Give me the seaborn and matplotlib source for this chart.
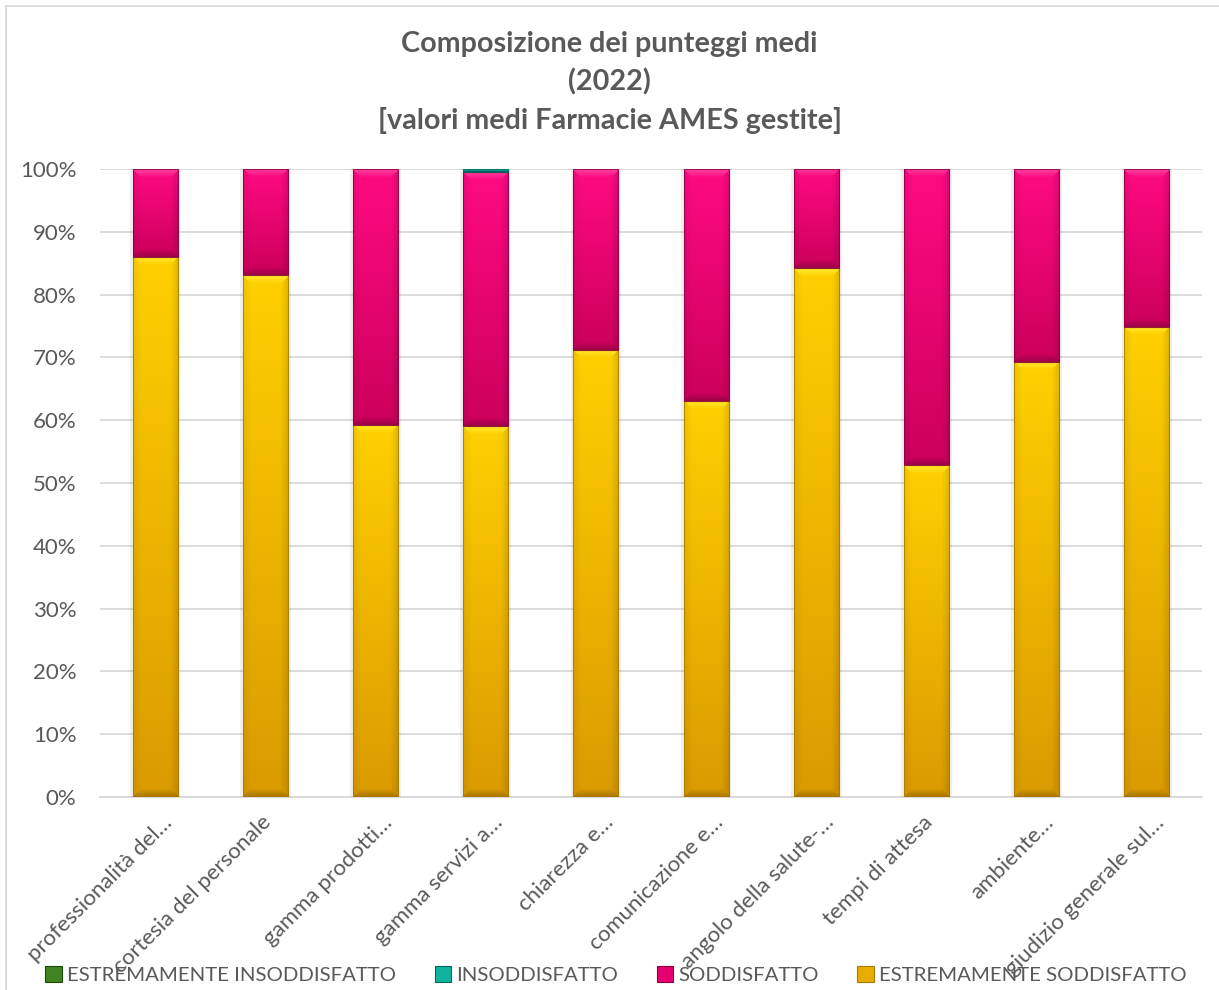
import numpy as np
import pandas as pd
import matplotlib
matplotlib.use("Agg")
import matplotlib.pyplot as plt
import matplotlib.transforms as mtransforms
from matplotlib.patches import Rectangle, Patch
from matplotlib.colors import to_rgb
import seaborn as sns

# ---------------- data ----------------
categories = [
    "professionalità del…",
    "cortesia del personale",
    "gamma prodotti…",
    "gamma servizi a…",
    "chiarezza e…",
    "comunicazione e…",
    "angolo della salute-…",
    "tempi di attesa",
    "ambiente…",
    "giudizio generale sul…",
]
estremamente_soddisfatto = [86.0, 83.1, 59.3, 59.0, 71.2, 63.1, 84.2, 52.8, 69.3, 74.9]
soddisfatto = [14.0, 16.9, 40.7, 40.5, 28.8, 36.9, 15.8, 47.2, 30.7, 25.1]
insoddisfatto = [0.0, 0.0, 0.0, 0.5, 0.0, 0.0, 0.0, 0.0, 0.0, 0.0]
estremamente_insoddisfatto = [0.0, 0.0, 0.0, 0.0, 0.0, 0.0, 0.0, 0.0, 0.0, 0.0]
series_names = ["ESTREMAMENTE INSODDISFATTO", "INSODDISFATTO", "SODDISFATTO",
                "ESTREMAMENTE SODDISFATTO"]
y_ticks = [0, 10, 20, 30, 40, 50, 60, 70, 80, 90, 100]
title_lines = ["Composizione dei punteggi medi", "(2022)",
               "[valori medi Farmacie AMES gestite]"]

# ---------------- style ----------------
sns.set_theme(style="white")
plt.rcParams['font.family'] = ['Lato', 'DejaVu Sans']
TXT = "#595959"
GRID = "#D9D9D9"

# colours per series: (top, bottom, highlight, edge, legend)
styles = {
    "ESTREMAMENTE SODDISFATTO": ("#FFD000", "#DA9A00", "#FFF23A", "#A77A00", "#E8AC00"),
    "SODDISFATTO": ("#FF0A82", "#CC005C", "#FF4FA6", "#8A0040", "#E6006F"),
    "INSODDISFATTO": ("#14C8B4", "#00907F", "#60E8D8", "#00695C", "#0FB3A0"),
    "ESTREMAMENTE INSODDISFATTO": ("#4E9A2A", "#2E6A14", "#7CC450", "#1E4A0A", "#3F8420"),
}

df = pd.DataFrame({
    "categoria": categories,
    "ESTREMAMENTE SODDISFATTO": estremamente_soddisfatto,
    "SODDISFATTO": soddisfatto,
    "INSODDISFATTO": insoddisfatto,
    "ESTREMAMENTE INSODDISFATTO": estremamente_insoddisfatto,
})
stack = ["ESTREMAMENTE SODDISFATTO", "SODDISFATTO", "INSODDISFATTO",
         "ESTREMAMENTE INSODDISFATTO"]
cum = df[stack].cumsum(axis=1)

W, H = 1219, 990
fig = plt.figure(figsize=(W / 100, H / 100), dpi=100)
fig.patch.set_facecolor("white")
ax = fig.add_axes([100 / W, 193 / H, 1102 / W, 628 / H])

BAR_W = 0.41
# draw cumulative bars, tallest first, through seaborn
for key in reversed(stack):
    d = pd.DataFrame({"categoria": categories, "h": cum[key].values})
    sns.barplot(data=d, x="categoria", y="h", color=styles[key][4], width=BAR_W,
                saturation=1, ax=ax, linewidth=0, zorder=2)

ax.set_xlim(-0.5, len(categories) - 0.5)
ax.set_ylim(0, 100)


def bevel_image(wpx, hpx, top, bot, hi, b=8):
    Hh = max(int(round(hpx)), 1)
    Ww = max(int(round(wpx)), 1)
    top = np.array(to_rgb(top)); bot = np.array(to_rgb(bot)); hi = np.array(to_rgb(hi))
    t = np.linspace(0, 1, Hh)[:, None, None]
    img = (1 - t) * top + t * bot
    img = np.broadcast_to(img, (Hh, Ww, 3)).copy()
    r = np.arange(Hh)[:, None] * np.ones((1, Ww))
    c = np.ones((Hh, 1)) * np.arange(Ww)[None, :]
    dists = np.stack([r, Hh - 1 - r, c, Ww - 1 - c])
    m = dists.min(0)
    face = dists.argmin(0)
    bb = min(b, Hh // 2, Ww // 2)
    if bb >= 1:
        edge = m < bb
        f = 1 - m / bb  # 1 at edge, 0 inside
        topm = edge & (face == 0)
        botm = edge & (face == 1)
        lm = edge & (face == 2)
        rm = edge & (face == 3)
        img[topm] = img[topm] * (1 - 0.8 * f[topm, None]) + hi * (0.8 * f[topm, None])
        img[botm] = img[botm] * (1 - 0.22 * f[botm, None])
        img[lm] = img[lm] * (1 - 0.06 * f[lm, None])
        img[rm] = img[rm] * (1 - 0.12 * f[rm, None])
    return np.clip(img, 0, 1)


fig.canvas.draw()
tr = ax.transData
for j in range(len(categories)):
    x0, x1 = j - BAR_W / 2, j + BAR_W / 2
    # faint shadow around whole bar
    total = cum[stack[-1]].iloc[j]
    ax.add_patch(Rectangle((x0 - 0.025, 0), BAR_W + 0.05, total + 0.5,
                           facecolor="#000000", alpha=0.06, lw=0, zorder=1.5))
    prev = 0.0
    for key in stack:
        top_v = cum[key].iloc[j]
        if top_v - prev > 1e-9:
            (px0, py0) = tr.transform((x0, prev))
            (px1, py1) = tr.transform((x1, top_v))
            tc, bc, hc, ec, _ = styles[key]
            img = bevel_image(px1 - px0, py1 - py0, tc, bc, hc,
                              b=8 if (py1 - py0) > 16 else max(1, int((py1 - py0) / 2)))
            ax.imshow(img, extent=(x0, x1, prev, top_v), aspect="auto",
                      interpolation="bilinear", zorder=3)
            ax.add_patch(Rectangle((x0, prev), BAR_W, top_v - prev, fill=False,
                                   edgecolor=ec, lw=0.8, alpha=0.8, zorder=4))
        prev = top_v

ax.set_xlim(-0.5, len(categories) - 0.5)
ax.set_ylim(0, 100)

# axes styling
for s in ["top", "right", "left"]:
    ax.spines[s].set_visible(False)
ax.spines["bottom"].set_color(GRID)
ax.spines["bottom"].set_linewidth(1.3)
ax.spines["bottom"].set_zorder(1)
ax.set_yticks(y_ticks)
ax.set_yticklabels([f"{v}%" for v in y_ticks])
ax.yaxis.grid(True, color=GRID, lw=1.3, zorder=0)
ax.set_axisbelow(True)
ax.set_xlabel("")
ax.set_ylabel("")
ax.tick_params(axis="y", length=0, pad=17, labelsize=16, labelcolor=TXT)
ax.tick_params(axis="x", length=0, pad=11, labelsize=16, labelcolor=TXT)
ax.set_xticks(range(len(categories)))
ax.set_xticklabels(categories, rotation=45, ha="right", rotation_mode="anchor")
for lab in ax.get_xticklabels():
    dx = 7 if lab.get_text().endswith("…") else -4
    lab.set_transform(lab.get_transform() +
                      mtransforms.ScaledTranslation(dx / 100, 0, fig.dpi_scale_trans))

# title
for line, yc in zip(title_lines, [44, 82, 121]):
    fig.text(0.5, 1 - yc / H, line, ha="center", va="center", fontsize=20.7,
             fontweight="bold", color=TXT)

# legend
handles = [Patch(facecolor=styles[n][4], edgecolor=styles[n][3], lw=0.8) for n in series_names]
fig.legend(handles, series_names, loc="center", bbox_to_anchor=(616 / W, 1 - 975 / H),
           ncol=4, frameon=False, fontsize=14.7, labelcolor=TXT, handlelength=0.8,
           handleheight=0.8, handletextpad=0.25, columnspacing=1.9)

# chart border (light grey frame, partly outside the image)
fig.add_artist(plt.Line2D([6 / W, 6 / W], [0, 1 - 6 / H], color=GRID, lw=1.3,
                          transform=fig.transFigure))
fig.add_artist(plt.Line2D([6 / W, 1], [1 - 6 / H, 1 - 6 / H], color=GRID, lw=1.3,
                          transform=fig.transFigure))

fig.savefig("out.png", dpi=100, facecolor="white")
